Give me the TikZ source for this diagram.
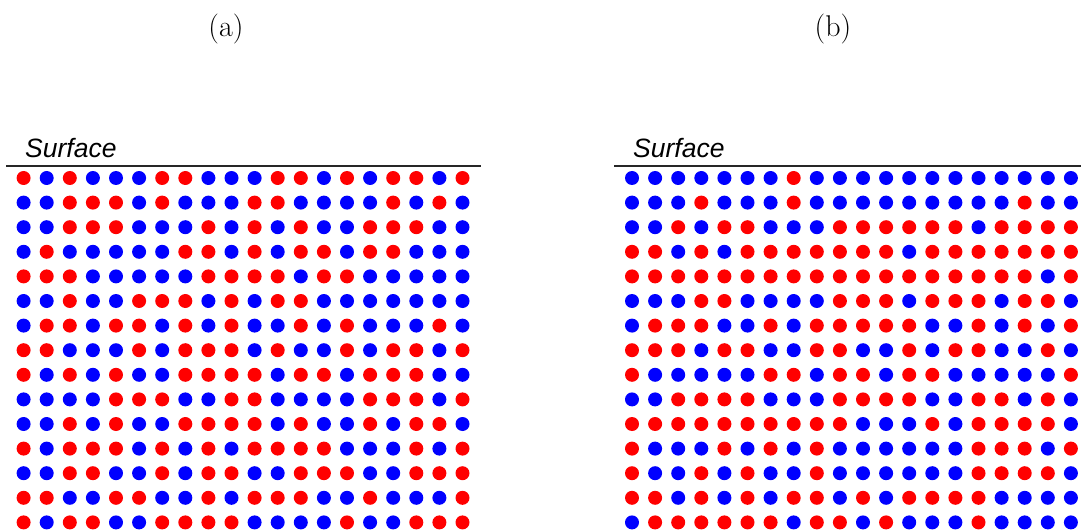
\documentclass[tikz,border=0pt]{standalone}
\usepackage{fontspec}
\newfontfamily\surffont{Liberation Sans}
\usetikzlibrary{positioning}
\definecolor{R}{RGB}{255,0,0}
\definecolor{B}{RGB}{0,0,255}

\begin{document}
\begin{tikzpicture}[
  x=1pt, y=1pt,
  dot/.style={radius=7},
  surf/.style={draw=black!85, line width=1.6pt},
  surflabel/.style={font=\surffont\itshape\fontsize{26.5}{30}\selectfont,
                    anchor=base west, inner sep=0pt},
  panel/.style={font=\fontsize{30}{34}\selectfont, inner sep=0pt},
]
\useasboundingbox (0,0) rectangle (1081,531);

% panel labels
\node[panel] (lbla) at (226,502) {(a)};
\node[panel] (lblb) at (833,502) {(b)};

% surfaces
\draw[surf] (6,365) -- (481,365);
\draw[surf] (614,365) -- (1081,365);
\node[surflabel] (surfa) at (25,373) {Surface};
\node[surflabel] (surfb) at (633,373) {Surface};

% left lattice (a)
\foreach \row [count=\i] in {
  {R,B,R,B,B,B,R,R,B,B,B,R,R,B,R,B,R,R,B,R},
  {B,B,R,R,R,B,R,B,B,B,R,R,B,B,B,B,R,B,R,B},
  {B,B,R,R,R,B,B,B,R,B,R,B,R,B,B,R,R,R,B,B},
  {B,R,B,B,B,B,B,R,R,B,R,B,R,R,B,R,R,B,B,B},
  {R,R,R,B,B,B,B,B,R,R,R,R,B,R,R,B,B,B,B,B},
  {B,B,R,B,B,R,R,R,B,R,B,R,R,B,B,B,B,B,B,B},
  {B,R,R,B,R,R,B,R,B,R,B,B,R,B,R,B,B,B,R,B},
  {R,R,B,B,B,R,B,R,R,R,B,R,B,B,R,B,R,R,B,R},
  {R,B,R,B,R,B,B,R,R,R,R,B,R,R,B,R,R,R,B,B},
  {B,B,B,B,R,R,R,B,B,R,R,B,B,B,B,R,R,R,B,R},
  {B,B,R,B,R,B,B,R,R,R,R,B,R,B,B,R,B,R,R,B},
  {R,B,R,R,R,B,R,B,R,B,R,R,R,R,B,B,B,R,B,R},
  {B,B,R,R,B,B,R,B,R,R,B,B,R,R,R,B,B,R,R,R},
  {R,R,B,B,R,R,B,B,R,B,R,R,R,B,B,R,B,B,B,R},
  {R,B,R,R,B,B,R,R,R,R,B,B,B,B,R,B,B,R,R,R}%
}{
  \foreach \c [count=\j] in \row
    \fill[fill=\c] ({23.6+23.1*(\j-1)},{353-24.6*(\i-1)}) circle[dot];
}

% right lattice (b)
\foreach \row [count=\i] in {
  {B,B,B,B,B,B,B,R,B,B,B,B,B,B,B,B,B,B,B,B},
  {B,B,B,R,B,B,B,R,B,B,B,B,B,B,B,B,B,R,B,B},
  {B,B,R,B,R,R,B,B,B,R,R,R,R,R,R,B,R,R,R,R},
  {R,R,B,R,B,R,R,R,R,R,R,R,B,R,R,R,R,R,R,R},
  {R,R,R,R,R,R,R,R,R,R,R,R,R,R,R,R,R,R,B,R},
  {B,B,B,R,R,B,B,B,B,R,R,R,B,R,R,R,B,R,R,B},
  {B,R,R,R,B,B,R,B,R,R,R,R,R,B,B,R,B,R,B,R},
  {R,R,R,B,R,R,B,B,R,R,B,B,R,B,R,R,B,B,R,B},
  {R,B,B,B,B,B,R,R,B,R,R,B,R,R,B,B,B,B,B,R},
  {B,B,R,R,R,R,B,B,B,R,R,R,R,B,B,R,R,B,R,B},
  {R,R,R,R,R,R,R,R,R,R,B,B,B,R,B,R,R,R,R,B},
  {R,B,B,B,R,B,R,B,R,B,B,B,B,B,B,R,R,R,B,R},
  {R,B,B,R,B,R,B,B,R,B,B,B,B,B,B,R,R,R,R,B},
  {R,R,B,R,B,R,B,R,R,B,R,B,R,R,R,R,B,B,B,B},
  {B,R,R,R,R,R,R,B,R,R,B,R,B,B,B,R,B,B,B,B}%
}{
  \foreach \c [count=\j] in \row
    \fill[fill=\c] ({632+23.1*(\j-1)},{353-24.6*(\i-1)}) circle[dot];
}

\end{tikzpicture}
\end{document}
